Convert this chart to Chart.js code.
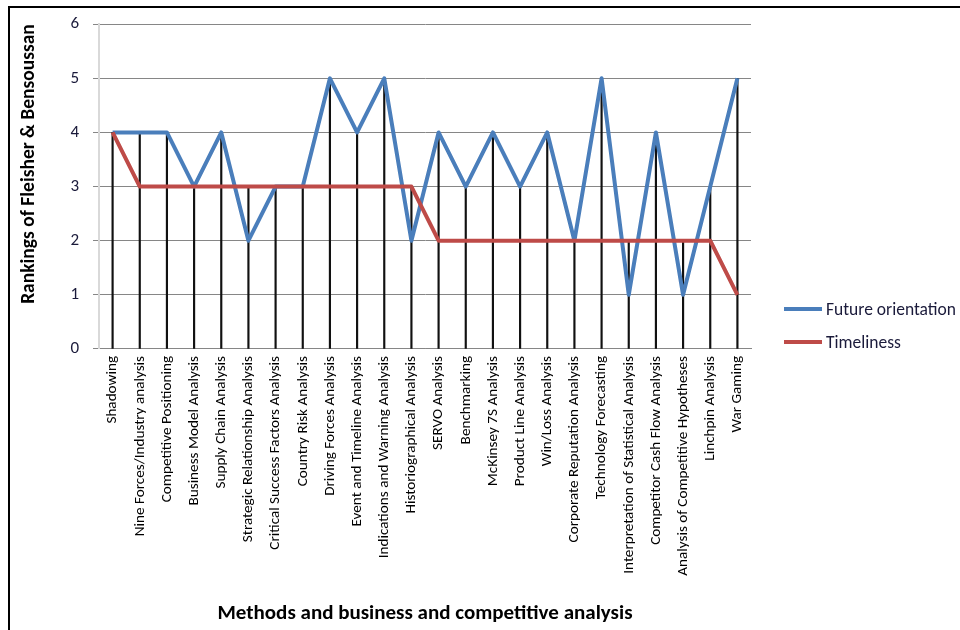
<!DOCTYPE html>
<html>
<head>
<meta charset="utf-8">
<script src="https://cdn.jsdelivr.net/npm/chart.js@4"></script>
<style>
  html, body { margin: 0; padding: 0; background: #fff; }
  #wrap { position: relative; width: 960px; height: 630px; overflow: hidden; font-family: Carlito, Lato, 'Liberation Sans', sans-serif; }
  #frame { position: absolute; left: 8px; top: 6px; width: 1000px; height: 700px; border-left: 2px solid #000; border-top: 2px solid #000; }
  canvas { position: absolute; left: 0; top: 0; }
  #legend { position: absolute; left: 784px; top: 297px; white-space: nowrap; }
  .item { display: flex; align-items: center; height: 24px; margin-bottom: 9px; font-size: 17.5px; color: #1a1a3a; }
  .swatch { display: inline-block; width: 38px; height: 4px; margin-right: 4px; }
</style>
</head>
<body>
<div id="wrap">
  <canvas id="chart" width="960" height="630"></canvas>
  <div id="legend"></div>
  <div id="frame"></div>
</div>
<script>
// categories on the x axis
const methods = [
    'Shadowing', 'Nine Forces/Industry analysis', 'Competitive Positioning', 'Business Model Analysis',
    'Supply Chain Analysis', 'Strategic Relationship Analysis', 'Critical Success Factors Analysis',
    'Country Risk Analysis', 'Driving Forces Analysis', 'Event and Timeline Analysis',
    'Indications and Warning Analysis', 'Historiographical Analysis', 'SERVO Analysis', 'Benchmarking',
    'McKinsey 7S Analysis', 'Product Line Analysis', 'Win/Loss Analysis', 'Corporate Reputation Analysis',
    'Technology Forecasting', 'Interpretation of Statistical Analysis', 'Competitor Cash Flow Analysis',
    'Analysis of Competitive Hypotheses', 'Linchpin Analysis', 'War Gaming'
];

// series values
const futureOrientation = [4, 4, 4, 3, 4, 2, 3, 3, 5, 4, 5, 2, 4, 3, 4, 3, 4, 2, 5, 1, 4, 1, 3, 5];
const timeliness = [4, 3, 3, 3, 3, 3, 3, 3, 3, 3, 3, 3, 2, 2, 2, 2, 2, 2, 2, 2, 2, 2, 2, 1];

// y axis ticks
const yTicks = [0, 1, 2, 3, 4, 5, 6];

// drop lines go from the higher of the two series down to the axis
const dropLines = futureOrientation.map((v, i) => Math.max(v, timeliness[i]));

const font = "Carlito, Lato, 'Liberation Sans', sans-serif";

const ctx = document.getElementById('chart').getContext('2d');
const chart = new Chart(ctx, {
    type: 'line',
    data: {
        labels: methods,
        datasets: [
            {
                label: 'Future orientation',
                data: futureOrientation,
                borderColor: '#4a7ebb',
                backgroundColor: '#4a7ebb',
                borderWidth: 4,
                borderJoinStyle: 'round',
                pointRadius: 0,
                tension: 0,
                order: 2,
            },
            {
                label: 'Timeliness',
                data: timeliness,
                borderColor: '#be4b48',
                backgroundColor: '#be4b48',
                borderWidth: 4,
                borderJoinStyle: 'round',
                pointRadius: 0,
                tension: 0,
                order: 1,
            },
            {
                type: 'bar',
                label: 'drop',
                data: dropLines,
                backgroundColor: '#111',
                barThickness: 1.5,
                order: 3,
            },
        ],
    },
    options: {
        responsive: false,
        animation: false,
        layout: { padding: { top: 4, left: 13, right: 209, bottom: 0 } },
        plugins: {
            tooltip: { enabled: false },
            legend: { display: false },
        },
        scales: {
            x: {
                offset: true,
                grid: { display: false, drawTicks: false },
                border: { color: '#868686', width: 1 },
                ticks: {
                    minRotation: 90,
                    maxRotation: 90,
                    autoSkip: false,
                    color: '#000',
                    padding: 7,
                    font: { family: font, size: 15.2 },
                },
                title: {
                    display: true,
                    text: 'Methods and business and competitive analysis',
                    color: '#000',
                    font: { family: font, size: 21, weight: 'bold' },
                    padding: { top: 18 },
                },
            },
            y: {
                min: 0,
                max: 6,
                afterBuildTicks: (axis) => { axis.ticks = yTicks.map(v => ({ value: v })); },
                grid: { color: '#868686', lineWidth: 1, tickLength: 6 },
                border: { color: '#d9d9d9', width: 2 },
                ticks: {
                    color: '#1a1a3a',
                    padding: 14,
                    font: { family: font, size: 17 },
                },
                title: {
                    display: true,
                    align: 'end',
                    text: 'Rankings of Fleisher & Bensoussan',
                    color: '#000',
                    font: { family: font, size: 19.5, weight: 'bold' },
                    padding: { bottom: 16 },
                },
            },
        },
    },
});

// legend built from the line datasets
const legend = document.getElementById('legend');
chart.data.datasets.filter(ds => ds.type !== 'bar').forEach(ds => {
    const item = document.createElement('div');
    item.className = 'item';
    const sw = document.createElement('span');
    sw.className = 'swatch';
    sw.style.background = ds.borderColor;
    item.appendChild(sw);
    item.appendChild(document.createTextNode(ds.label));
    legend.appendChild(item);
});
</script>
</body>
</html>
